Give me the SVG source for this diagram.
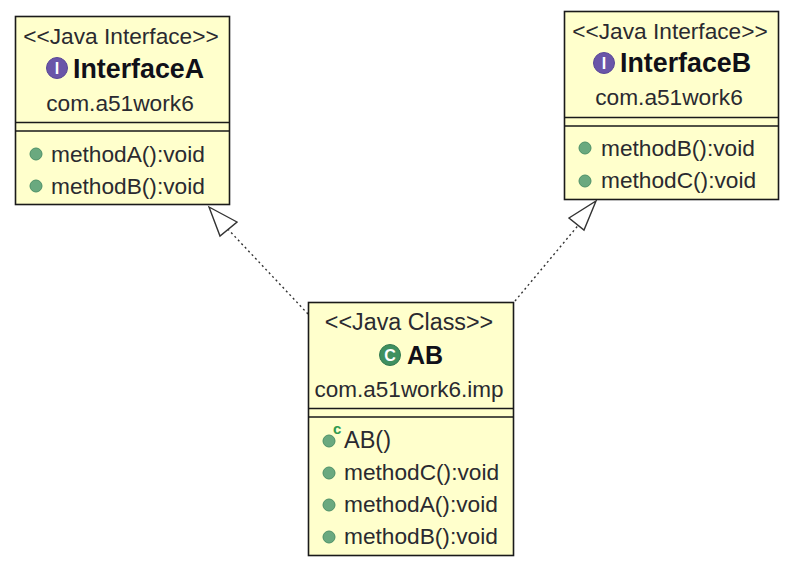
<svg xmlns="http://www.w3.org/2000/svg" width="801" height="566" viewBox="0 0 801 566">
<style>
.box{fill:#ffffcc;stroke:#1a1a1a;stroke-width:1.6}
.sep{stroke:#1a1a1a;stroke-width:1.6}
text{font-family:"Liberation Sans",Arial,sans-serif;font-size:22.700px;fill:#2a2a30}
.c{text-anchor:middle}
.t{font-weight:bold;font-size:26.800px;fill:#101018}
.m{fill:#6aa97f;stroke:#4c9068;stroke-width:1}
.ii{fill:#6a55a8;stroke:#5a4898;stroke-width:1}
.ci{fill:#3f9060;stroke:#337a50;stroke-width:1}
.gl{font-family:"Liberation Sans",sans-serif;font-weight:bold;font-size:16px;fill:#fff;text-anchor:middle}
.conn{fill:none;stroke:#333;stroke-width:1.4;stroke-dasharray:2 3}
.head{fill:#fff;stroke:#333;stroke-width:1.4}
</style>
<rect width="801" height="566" fill="#fff"/>
<g id="connectors">
<path class="conn" d="M308 314L224 225"/>
<path class="head" d="M209 207L237 222L220 236Z"/>
<path class="conn" d="M515 301L581 222"/>
<path class="head" d="M596 201L584 230L569 218Z"/>
</g>
<g id="InterfaceA">
<rect class="box" x="15.500" y="16.500" width="214" height="188"/>
<path class="sep" d="M15 122.500H230M15 131H230"/>
<text class="c" x="121" y="44">&lt;&lt;Java Interface&gt;&gt;</text>
<circle class="ii" cx="57" cy="68" r="10.500"/><text class="gl" x="57" y="74">I</text>
<text class="t" x="73" y="78">InterfaceA</text>
<text class="c" x="120" y="111">com.a51work6</text>
<circle class="m" cx="36" cy="154" r="6"/><text x="51" y="162">methodA():void</text>
<circle class="m" cx="36" cy="186" r="6"/><text x="51" y="194">methodB():void</text>
</g>
<g id="InterfaceB">
<rect class="box" x="564.500" y="11.500" width="214" height="188"/>
<path class="sep" d="M564 117.500H779M564 126H779"/>
<text class="c" x="670" y="39">&lt;&lt;Java Interface&gt;&gt;</text>
<circle class="ii" cx="604" cy="63" r="10.500"/><text class="gl" x="604" y="69">I</text>
<text class="t" x="620" y="72">InterfaceB</text>
<text class="c" x="669" y="105">com.a51work6</text>
<circle class="m" cx="585" cy="148" r="6"/><text x="601" y="156">methodB():void</text>
<circle class="m" cx="585" cy="181" r="6"/><text x="601" y="188">methodC():void</text>
</g>
<g id="AB">
<rect class="box" x="308.500" y="302.500" width="205" height="253"/>
<path class="sep" d="M308 408.500H514M308 417H514"/>
<text class="c" x="409" y="330" style="font-size:23.300px">&lt;&lt;Java Class&gt;&gt;</text>
<circle class="ci" cx="390" cy="355" r="10.500"/><text class="gl" x="390" y="361">C</text>
<text class="t" x="407" y="364" style="font-size:25px">AB</text>
<text class="c" x="409" y="397" style="font-size:22.500px">com.a51work6.imp</text>
<circle class="m" cx="329" cy="441" r="6"/><text x="333" y="434" style="font-size:15px;font-weight:bold;fill:#2f9a50">c</text>
<text x="344" y="448" style="font-size:23.500px">AB()</text>
<circle class="m" cx="329" cy="473" r="6"/><text x="344" y="480">methodC():void</text>
<circle class="m" cx="329" cy="505" r="6"/><text x="344" y="512">methodA():void</text>
<circle class="m" cx="329" cy="537" r="6"/><text x="344" y="544">methodB():void</text>
</g>
</svg>
